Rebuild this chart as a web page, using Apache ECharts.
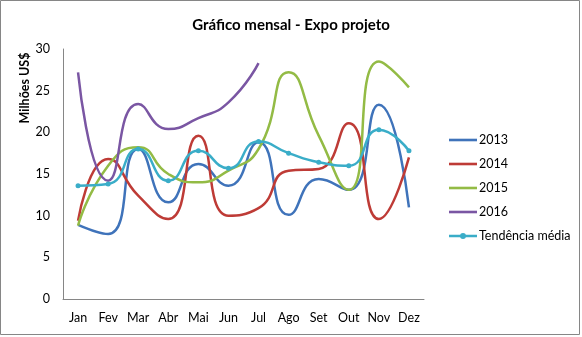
<!DOCTYPE html>
<html><head><meta charset="utf-8">
<script src="https://cdn.jsdelivr.net/npm/echarts@6/dist/echarts.min.js"></script>
<style>html,body{margin:0;padding:0;background:#fff}#c{width:582px;height:337px}</style>
</head><body><div id="c"></div>
<script>
const months = ['Jan','Fev','Mar','Abr','Mai','Jun','Jul','Ago','Set','Out','Nov','Dez'];
const s2013 = [8.9, 7.8, 18.0, 11.6, 16.2, 13.6, 18.8, 10.1, 14.4, 13.1, 23.3, 11.0];
const s2014 = [9.4, 16.8, 12.4, 9.6, 19.6, 10.0, 10.9, 15.4, 15.6, 21.1, 9.6, 17.0];
const s2015 = [8.8, 16.0, 18.2, 15.0, 14.0, 15.4, 18.0, 27.2, 19.6, 13.1, 28.5, 25.4];
const s2016 = [27.2, 14.2, 23.4, 20.4, 21.7, 23.6, 28.3];
const trend = [13.6, 13.8, 18.0, 14.2, 17.8, 15.7, 18.9, 17.5, 16.4, 16.0, 20.3, 17.8];
const yTicks = {min: 0, max: 30, interval: 5};
const yAxisTitle = 'Milhões US$';

const font = 'Lato';
const lineIcon = 'path://M0,0M28,14M0,5.7H28V8.3H0Z';
const markIcon = 'path://M0,0M28,14M0,5.7H28V8.3H0Z M11,7a3,3 0 1,1 6,0a3,3 0 1,1 -6,0Z';
const chart = echarts.init(document.getElementById('c'));
function line(name, data, color, marker) {
  return {
    name, type: 'line', data, smooth: 0.55,
    symbol: marker ? 'circle' : 'none', symbolSize: 5, showSymbol: !!marker,
    lineStyle: {color, width: 2.5}, itemStyle: {color},
    emphasis: {disabled: true}
  };
}
chart.setOption({
  animation: false,
  textStyle: {fontFamily: font},
  title: {
    text: 'Gráfico mensal - Expo projeto', left: 'center', top: 13,
    textStyle: {fontFamily: font, fontSize: 15, fontWeight: 'bold', color: '#000'}
  },
  graphic: [
    {type: 'rect', shape: {x: 0.5, y: 0.5, width: 579, height: 334},
      style: {fill: 'none', stroke: '#868686', lineWidth: 1}, silent: true},
    {type: 'text', x: 25, y: 88, rotation: Math.PI / 2, silent: true,
      style: {text: yAxisTitle, align: 'center', verticalAlign: 'middle',
        font: 'bold 12.5px Lato', fill: '#000'}}
  ],
  grid: {left: 63, right: 158, top: 49, bottom: 38},
  legend: {
    orient: 'vertical', left: 444, top: 128, itemGap: 10,
    itemWidth: 28, itemHeight: 14,
    textStyle: {fontFamily: font, fontSize: 12.5, color: '#000', padding: [0,0,0,-3]},
    data: [
      {name: '2013', icon: lineIcon}, {name: '2014', icon: lineIcon},
      {name: '2015', icon: lineIcon}, {name: '2016', icon: lineIcon},
      {name: 'Tendência média', icon: markIcon}
    ]
  },
  xAxis: {
    type: 'category', data: months, boundaryGap: true,
    axisLine: {lineStyle: {color: '#868686'}}, axisTick: {show: false},
    axisLabel: {color: '#000', fontFamily: font, fontSize: 12.5, margin: 12}
  },
  yAxis: {
    type: 'value', min: yTicks.min, max: yTicks.max, interval: yTicks.interval,
    axisLine: {show: true, lineStyle: {color: '#868686'}}, axisTick: {show: false},
    splitLine: {show: false},
    axisLabel: {color: '#000', fontFamily: font, fontSize: 12.5, margin: 13}
  },
  series: [
    line('2013', s2013, '#3F73BA'),
    line('2014', s2014, '#BE3B36'),
    line('2015', s2015, '#93BB45'),
    line('2016', s2016, '#7A56A3'),
    line('Tendência média', trend, '#3AADC8', true)
  ]
});
</script></body></html>
